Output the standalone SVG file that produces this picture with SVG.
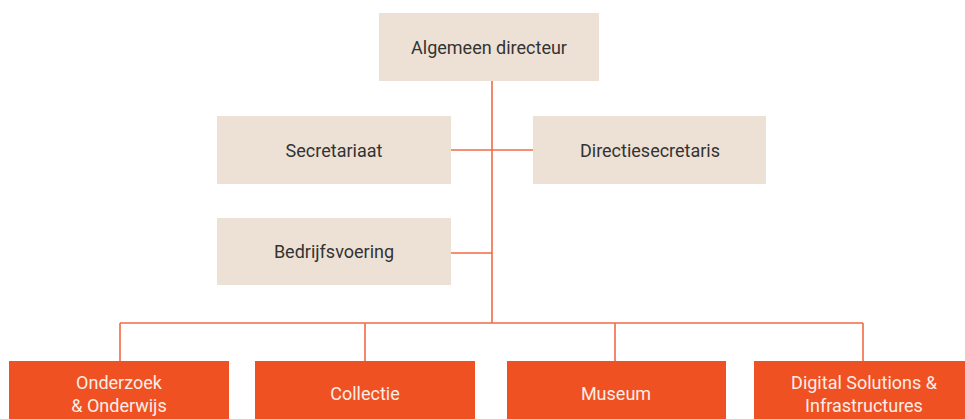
<svg xmlns="http://www.w3.org/2000/svg" width="965" height="419" viewBox="0 0 965 419">
<style>
.light{fill:#EDE1D5}
.dark{fill:#F05123}
.lt{font-family:Roboto,"Liberation Sans",sans-serif;font-size:18px;fill:#333333;text-anchor:middle}
.dt{font-family:Roboto,"Liberation Sans",sans-serif;font-size:18px;fill:#FCEDE6;text-anchor:middle}
.ln{stroke:#F26A45;stroke-width:1.6;fill:none}
</style>
<rect width="965" height="419" fill="#FFFFFF"/>
<g id="connectors">
<path class="ln" d="M492 81V323"/>
<path class="ln" d="M451 150H533"/>
<path class="ln" d="M451 253H492"/>
<path class="ln" d="M120 323H863"/>
<path class="ln" d="M120 323V361M365 323V361M615 323V361M863 323V361"/>
</g>
<g id="algemeen-directeur">
<rect class="light" x="379" y="13" width="220" height="68"/>
<text class="lt" x="489" y="54">Algemeen directeur</text>
</g>
<g id="secretariaat">
<rect class="light" x="217" y="116" width="234" height="68"/>
<text class="lt" x="334" y="157">Secretariaat</text>
</g>
<g id="directiesecretaris">
<rect class="light" x="533" y="116" width="233" height="68"/>
<text class="lt" x="650" y="157">Directiesecretaris</text>
</g>
<g id="bedrijfsvoering">
<rect class="light" x="217" y="218" width="234" height="67"/>
<text class="lt" x="334" y="258">Bedrijfsvoering</text>
</g>
<g id="onderzoek">
<rect class="dark" x="9" y="361" width="220" height="68"/>
<text class="dt" x="119" y="389">Onderzoek</text>
<text class="dt" x="119" y="412">&amp; Onderwijs</text>
</g>
<g id="collectie">
<rect class="dark" x="255" y="361" width="220" height="68"/>
<text class="dt" x="365" y="400">Collectie</text>
</g>
<g id="museum">
<rect class="dark" x="507" y="361" width="219" height="68"/>
<text class="dt" x="616" y="400">Museum</text>
</g>
<g id="digital">
<rect class="dark" x="754" y="361" width="220" height="68"/>
<text class="dt" x="864" y="389">Digital Solutions &amp;</text>
<text class="dt" x="864" y="412">Infrastructures</text>
</g>
</svg>
